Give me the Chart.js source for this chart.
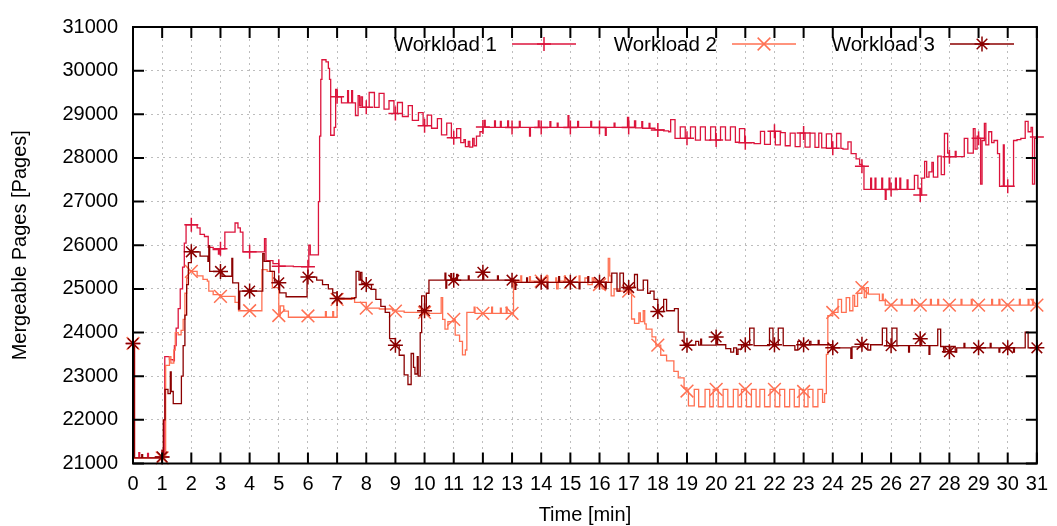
<!DOCTYPE html>
<html>
<head>
<meta charset="utf-8">
<title>Mergeable pages over time</title>
<script src="https://cdn.jsdelivr.net/npm/chart.js@4.4.0/dist/chart.umd.min.js"></script>
<style>
  body { margin: 0; background: #fff; }
  canvas { display: block; }
</style>
</head>
<body>
<canvas id="chart" width="1057" height="526"></canvas>
<script>
const seriesNames = ['Workload 1', 'Workload 2', 'Workload 3'];
const minuteTicks = [0, 1, 2, 3, 4, 5, 6, 7, 8, 9, 10, 11, 12, 13, 14, 15, 16, 17, 18, 19, 20, 21, 22, 23, 24, 25, 26, 27, 28, 29, 30, 31];
const pageTicks = [21000, 22000, 23000, 24000, 25000, 26000, 27000, 28000, 29000, 30000, 31000];

// each value holds from its minute until the next one
const w1Minutes = [0, 0.05, 0.2, 0.23, 0.5, 0.53, 1, 1.09, 1.25, 1.38, 1.42, 1.48, 1.55, 1.62, 1.7, 1.76, 1.82, 2, 2.2, 2.3, 2.45, 2.58, 2.75, 2.93, 2.96, 3, 3.15, 3.45, 3.5, 3.6, 3.68, 3.77, 4, 4.51, 4.56, 4.8, 5, 5.5, 6, 6.03, 6.08, 6.36, 6.4, 6.44, 6.48, 6.62, 6.7, 6.74, 6.78, 6.9, 6.95,
  7, 7.15, 7.36, 7.39, 7.5, 7.53, 7.63, 7.72, 7.77, 7.82, 7.87, 8, 8.1, 8.28, 8.44, 8.61, 8.78, 8.95, 9, 9.07, 9.24, 9.44, 9.58, 9.79, 9.95, 10, 10.09, 10.24, 10.44, 10.58, 10.76, 10.92, 11, 11.1, 11.24, 11.35, 11.4, 11.5, 11.55, 11.65, 11.7, 11.78, 11.9,
  12, 12.05, 12.08, 12.4, 12.43, 12.6, 12.63, 12.85, 12.88, 13, 13.25, 13.28, 13.6, 13.63, 13.9, 13.93, 14, 14.3, 14.33, 14.55, 14.58, 14.92, 14.95, 15, 15.25, 15.28, 15.7, 15.73, 16, 16.2, 16.23, 16.5, 16.53, 16.96,
  17, 17.2, 17.24, 17.45, 17.48, 17.7, 17.73, 17.9, 18, 18.2, 18.37, 18.44, 18.59, 18.77, 18.94, 19, 19.12, 19.29, 19.46, 19.63, 19.81, 19.98, 20, 20.15, 20.32, 20.49, 20.66, 20.8, 20.98, 21, 21.3, 21.52, 21.66, 21.86, 22, 22.03, 22.2, 22.37, 22.54, 22.71, 22.88, 23, 23.05, 23.22, 23.39, 23.52, 23.62, 23.78, 23.96, 24, 24.13, 24.28, 24.35, 24.52, 24.63, 24.8, 24.92,
  25, 25.07, 25.3, 25.33, 25.45, 25.48, 25.68, 25.71, 25.8, 25.83, 25.93, 25.96, 26, 26.15, 26.18, 26.3, 26.33, 26.55, 26.58, 26.8, 26.92, 27, 27.05, 27.15, 27.22, 27.3, 27.4, 27.45, 27.6, 27.72, 27.83, 27.94,
  28, 28.2, 28.23, 28.51, 28.63, 28.82, 28.88, 28.95, 29, 29.07, 29.12, 29.2, 29.25, 29.35, 29.45, 29.53, 29.65, 29.72, 29.85, 29.88, 30, 30.2, 30.32, 30.45, 30.6, 30.7, 30.8, 30.85, 30.92, 31];
const w1Pages = [23750, 21130, 21250, 21130, 21230, 21130, 21150, 23450, 23380, 23350, 23700, 24100, 24550, 25000, 25500, 26050, 26470, 26470, 26400, 26250, 26200, 25950, 25900, 25800, 25920, 25920, 26300, 26300, 26510, 26400, 26300, 25850, 25850, 26150, 25650, 25580, 25520, 25510, 25510, 26000, 25780, 27000, 28500, 29800, 30250, 30200, 30050, 29800, 28520, 28700, 29570,
  29400, 29260, 29540, 29260, 29540, 29260, 28970, 29430, 29200, 29400, 29160, 29160, 29500, 29160, 29480, 29120, 29310, 29020, 29020, 29270, 28950, 29200, 28860, 29040, 28750, 28740, 28980, 28680, 28900, 28530, 28800, 28460, 28460, 28670, 28350, 28420, 28260, 28380, 28250, 28450, 28280, 28500, 28600,
  28710, 28860, 28700, 28850, 28700, 28840, 28700, 28850, 28700, 28700, 28840, 28700, 28500, 28700, 28850, 28700, 28700, 28830, 28700, 28800, 28700, 28970, 28700, 28700, 28840, 28700, 28840, 28700, 28700, 28520, 28700, 28800, 28700, 28930,
  28700, 28850, 28690, 28830, 28680, 28790, 28680, 28650, 28640, 28620, 28600, 28880, 28450, 28710, 28450, 28450, 28710, 28410, 28710, 28410, 28710, 28410, 28410, 28710, 28410, 28710, 28360, 28670, 28360, 28350, 28330, 28610, 28310, 28610, 28610, 28300, 28580, 28280, 28570, 28260, 28570, 28570, 28250, 28570, 28240, 28570, 28230, 28550, 28220, 28220, 28560, 28220, 28200, 28370, 28100, 27980, 27850,
  27810, 27280, 27540, 27280, 27540, 27280, 27540, 27280, 27050, 27280, 27540, 27280, 27280, 27540, 27280, 27540, 27280, 27500, 27280, 27600, 27300, 27150, 27540, 27920, 27560, 27680, 27900, 27560, 28040, 27620, 28560, 28110,
  28030, 28150, 28030, 28450, 28110, 28670, 28200, 28500, 28450, 27400, 28400, 28790, 28300, 28600, 28350, 28400, 28100, 27350, 28300, 27350, 27350, 28400, 28420, 28450, 28840, 28600, 28700, 27400, 28450, 28480];

const w2Minutes = [0, 0.05, 1, 1.12, 1.25, 1.3, 1.4, 1.45, 1.55, 1.65, 1.72, 1.78, 1.84, 1.9, 2, 2.2, 2.4, 2.55, 2.6, 2.75, 3, 3.5, 3.62, 4, 4.42, 4.6, 4.78, 5, 5.05, 5.17, 5.33, 6, 6.05, 6.6, 6.63, 6.85, 6.88,
  7, 7.5, 7.6, 8, 8.45, 8.9, 9, 9.3, 10, 10.15, 10.57, 10.62, 10.7, 10.8, 11, 11.05, 11.2, 11.3, 11.4, 11.45, 11.7, 11.73, 12, 12.3, 12.33, 12.6, 12.63, 12.8, 12.83,
  13, 13.05, 13.3, 13.33, 13.6, 13.63, 14, 14.2, 14.23, 14.5, 14.53, 14.58, 14.8, 14.83, 15, 15.3, 15.33, 15.5, 15.6, 15.75, 15.8, 16, 16.1, 16.2, 16.3, 16.35, 16.4, 16.5, 16.65,
  17, 17.1, 17.2, 17.35, 17.4, 17.5, 17.55, 17.6, 17.8, 17.93, 18, 18.1, 18.3, 18.55, 18.7, 18.9, 19, 19.05, 19.25, 19.4, 19.62, 19.78, 19.9, 20, 20.07, 20.24, 20.4, 20.59, 20.75, 20.87, 21, 21.04, 21.21, 21.37, 21.5, 21.66, 21.85, 22, 22.02, 22.18, 22.35, 22.52, 22.68, 22.85, 23, 23.02, 23.15, 23.32, 23.49, 23.65, 23.72, 23.78, 23.83,
  24, 24.18, 24.3, 24.46, 24.58, 24.69, 24.75, 24.85, 25, 25.08, 25.15, 25.22, 25.6, 25.7, 25.73, 25.8, 26, 26.35, 26.38, 26.7, 26.73, 27, 27.35, 27.38, 27.6, 27.63, 28, 28.4, 28.43, 28.75, 28.78, 29, 29.45, 29.48, 29.7, 29.73, 30, 30.4, 30.43, 30.7, 30.73, 30.85, 30.88, 31];
const w2Pages = [23750, 21130, 21130, 23250, 23450, 23300, 23600, 24000, 23950, 24050, 24300, 24900, 25250, 25420, 25400, 25300, 25220, 25180, 24950, 24870, 24830, 24690, 24500, 24500, 25440, 25400, 25030, 24390, 24610, 24490, 24350, 24380, 24350, 24480, 24350, 24480, 24350,
  24760, 24800, 24690, 24560, 24540, 24500, 24490, 24460, 24460, 24440, 24800, 24300, 24080, 24250, 24300, 23940, 23800, 23490, 23600, 24460, 24580, 24440, 24440, 24580, 24440, 24560, 24440, 24580, 24440,
  24440, 25180, 25300, 25150, 25280, 25180, 25180, 25300, 25150, 25250, 25000, 25180, 25300, 25180, 25150, 25300, 25150, 25250, 25100, 25250, 25150, 25100, 25000, 25150, 25700, 25300, 24840, 25000, 24950,
  24950, 24310, 24210, 24450, 24250, 24500, 24200, 24080, 23900, 23710, 23710, 23480, 23350, 23110, 22960, 22730, 22660, 22320, 22700, 22300, 22700, 22300, 22700, 22700, 22300, 22700, 22300, 22700, 22300, 22700, 22700, 22300, 22700, 22300, 22700, 22300, 22700, 22700, 22300, 22700, 22300, 22700, 22300, 22700, 22650, 22300, 22700, 22300, 22700, 22400, 22600, 23500, 24390,
  24460, 24760, 24460, 24800, 24500, 24850, 24600, 24900, 25030, 24800, 25030, 24880, 24730, 24880, 24730, 24630, 24630, 24760, 24630, 24760, 24630, 24630, 24760, 24630, 24760, 24630, 24630, 24760, 24630, 24760, 24630, 24630, 24760, 24630, 24760, 24630, 24630, 24760, 24630, 24760, 24630, 24760, 24630, 24630];

const w3Minutes = [0, 0.05, 0.3, 0.33, 1, 1.04, 1.1, 1.2, 1.28, 1.31, 1.38, 1.62, 1.66, 1.72, 1.78, 1.84, 1.9, 2, 2.3, 2.57, 2.6, 2.63, 3, 3.05, 3.39, 3.42, 3.62, 3.66, 4, 4.45, 4.5, 4.7, 4.85, 5, 5.03, 5.25, 5.97, 6, 6.3, 6.5, 6.7, 6.85,
  7, 7.6, 7.65, 7.75, 7.8, 7.85, 8, 8.18, 8.33, 8.5, 8.65, 8.8, 9, 9.13, 9.3, 9.43, 9.54, 9.62, 9.67, 9.75, 9.78, 9.85, 9.9, 10, 10.06, 10.15, 10.7, 10.73, 10.76, 10.9, 10.93, 11, 11.1, 11.13, 11.5, 11.53,
  12, 12.03, 12.5, 12.53, 13, 13.1, 13.13, 13.5, 13.53, 14, 14.2, 14.23, 14.6, 14.63, 15, 15.3, 15.33, 15.6, 15.63, 16, 16.2, 16.23, 16.42, 16.6, 16.7, 16.82,
  17, 17.2, 17.3, 17.5, 17.65, 17.74, 17.87, 18, 18.2, 18.3, 18.57, 18.7, 18.9, 19, 19.3, 19.4, 19.47, 19.5, 20, 20.05, 20.33, 20.5, 20.6, 20.7, 20.75, 20.87, 21, 21.15, 21.3, 21.83, 21.95, 22, 22.13, 22.3, 22.7, 22.8, 22.9, 23, 23.2, 23.25, 23.5, 23.53,
  24, 24.62, 24.66, 25, 25.2, 25.3, 25.7, 25.85, 26, 26.03, 26.2, 26.6, 26.63, 27, 27.05, 27.3, 27.33, 27.6, 27.7, 27.8, 27.85, 28, 28.05, 28.2, 28.25, 28.5, 28.53, 29, 29.4, 29.43, 29.7, 29.73, 30, 30.2, 30.23, 30.6, 30.7, 31];
const w3Pages = [23750, 21130, 21200, 21130, 21150, 22000, 22700, 22600, 23100, 22650, 22370, 22370, 23000, 23700, 24400, 25100, 25600, 25850, 25750, 25630, 25990, 25400, 25400, 25290, 25700, 25140, 24540, 24950, 24950, 25810, 25630, 25400, 25180, 25140, 24910, 24820, 25270, 25270, 25200, 25100, 25000, 24910,
  24780, 24800, 25400, 25200, 25380, 25120, 25100, 24990, 24760, 24600, 24460, 23860, 23710, 23480, 23030, 22810, 23520, 23200, 23050, 23450, 23000, 24000, 24840, 24500, 24900, 25200, 25360, 25020, 25200, 25350, 25200, 25200, 25330, 25200, 25300, 25200,
  25380, 25200, 25300, 25200, 25200, 24990, 25150, 25250, 25150, 25150, 25000, 25150, 25280, 25150, 25150, 25000, 25150, 25280, 25150, 25150, 25000, 25150, 25360, 24950, 25360, 25000,
  25030, 25330, 24970, 25200, 24900, 24950, 24760, 24480, 24760, 24500, 24550, 24010, 23710, 23710, 23800, 23710, 23850, 23710, 23900, 23720, 23630, 23550, 23650, 23500, 23620, 23720, 23720, 24100, 23700, 24100, 23700, 23720, 24100, 23700, 23600, 23800, 23720, 23720, 23800, 23720, 23820, 23720,
  23650, 23410, 23670, 23730, 23600, 23720, 24100, 23700, 23700, 24100, 23700, 23550, 23700, 23860, 23700, 23500, 23700, 24080, 23680, 23550, 23680, 23560, 23680, 23550, 23650, 23750, 23650, 23650, 23750, 23650, 23550, 23650, 23650, 23550, 23650, 24010, 23650, 23650];

const fontFamily = '"Liberation Sans", Arial, sans-serif';
const colors = ['#dc143c', '#ff7052', '#8b0000'];
const markers = [
  { style: 'cross', radius: 7 },
  { style: 'crossRot', radius: 9 },
  { style: 'star', radius: 7.5 }
];

function toPoints(minutes, pages) {
  return minutes.map((m, i) => ({ x: m, y: pages[i] }));
}

function makeDataset(index, minutes, pages) {
  return {
    label: seriesNames[index],
    data: toPoints(minutes, pages),
    stepped: true,
    borderColor: colors[index],
    borderWidth: 1.3,
    pointStyle: markers[index].style,
    pointBorderColor: colors[index],
    pointBackgroundColor: colors[index],
    pointBorderWidth: 1.5,
    pointRadius: ctx => (ctx.raw && Number.isInteger(ctx.raw.x)) ? markers[index].radius : 0,
    clip: 12,
    order: 3 - index
  };
}

// gnuplot style marker for the key
function drawMarker(ctx, style, r, x, y) {
  ctx.beginPath();
  if (style === 'cross' || style === 'star') {
    ctx.moveTo(x - r, y); ctx.lineTo(x + r, y);
    ctx.moveTo(x, y - r); ctx.lineTo(x, y + r);
  }
  if (style === 'crossRot' || style === 'star') {
    const d = r * Math.SQRT1_2;
    ctx.moveTo(x - d, y - d); ctx.lineTo(x + d, y + d);
    ctx.moveTo(x - d, y + d); ctx.lineTo(x + d, y - d);
  }
  ctx.stroke();
}

const keyPlugin = {
  id: 'key',
  afterDraw(chart) {
    const ctx = chart.ctx;
    const textRight = [497, 717, 935];
    const y = 44;
    ctx.save();
    ctx.font = '20.5px ' + fontFamily;
    ctx.textAlign = 'right';
    ctx.textBaseline = 'middle';
    seriesNames.forEach((name, i) => {
      ctx.fillStyle = '#000';
      ctx.fillText(name, textRight[i], y + 1);
      const x0 = textRight[i] + 15;
      const x1 = x0 + 64;
      ctx.strokeStyle = colors[i];
      ctx.lineWidth = 1.3;
      ctx.beginPath();
      ctx.moveTo(x0, y);
      ctx.lineTo(x1, y);
      ctx.stroke();
      ctx.lineWidth = 1.5;
      drawMarker(ctx, markers[i].style, markers[i].radius, (x0 + x1) / 2, y);
    });
    ctx.restore();
  }
};

const framePlugin = {
  id: 'frame',
  afterDatasetsDraw(chart) {
    const { ctx, chartArea: a, scales } = chart;
    const tick = 11;
    ctx.save();
    ctx.strokeStyle = '#000';
    ctx.lineWidth = 2;
    ctx.beginPath();
    minuteTicks.forEach(v => {
      const px = scales.x.getPixelForValue(v);
      ctx.moveTo(px, a.bottom); ctx.lineTo(px, a.bottom - tick);
      ctx.moveTo(px, a.top); ctx.lineTo(px, a.top + tick);
    });
    pageTicks.forEach(v => {
      const py = scales.y.getPixelForValue(v);
      ctx.moveTo(a.left, py); ctx.lineTo(a.left + tick, py);
      ctx.moveTo(a.right, py); ctx.lineTo(a.right - tick, py);
    });
    ctx.stroke();
    ctx.strokeRect(a.left, a.top, a.right - a.left, a.bottom - a.top);
    ctx.restore();
  }
};

Chart.defaults.font.family = fontFamily;
Chart.defaults.color = '#000';

new Chart(document.getElementById('chart'), {
  type: 'line',
  data: {
    datasets: [
      makeDataset(0, w1Minutes, w1Pages),
      makeDataset(1, w2Minutes, w2Pages),
      makeDataset(2, w3Minutes, w3Pages)
    ]
  },
  options: {
    responsive: false,
    animation: false,
    events: [],
    layout: { padding: { top: 20, right: 17.5, bottom: 0, left: 0 } },
    plugins: { legend: { display: false }, tooltip: { enabled: false } },
    scales: {
      x: {
        type: 'linear',
        min: 0,
        max: 31,
        afterBuildTicks: s => { s.ticks = minuteTicks.map(v => ({ value: v })); },
        afterFit: s => { s.height = 62.5; },
        ticks: { color: '#000', font: { size: 20 }, padding: 9, maxRotation: 0, autoSkip: false, callback: v => String(v) },
        grid: { color: '#bdbdbd', lineWidth: 1, drawTicks: false },
        border: { display: false, dash: [2, 4] },
        title: { display: true, text: 'Time [min]', color: '#000', font: { size: 20, lineHeight: 1.1 }, padding: { top: 0, bottom: 0 } }
      },
      y: {
        type: 'linear',
        min: 21000,
        max: 31000,
        afterBuildTicks: s => { s.ticks = pageTicks.map(v => ({ value: v })); },
        afterFit: s => { s.width = 133; },
        ticks: { color: '#000', font: { size: 20 }, padding: 15, callback: v => String(v) },
        grid: { color: '#bdbdbd', lineWidth: 1, drawTicks: false },
        border: { display: false, dash: [2, 4] },
        title: { display: true, text: 'Mergeable Pages [Pages]', color: '#000', font: { size: 20, lineHeight: 1.1 }, padding: { top: 9, bottom: 0 } }
      }
    }
  },
  plugins: [framePlugin, keyPlugin]
});
</script>
</body>
</html>
